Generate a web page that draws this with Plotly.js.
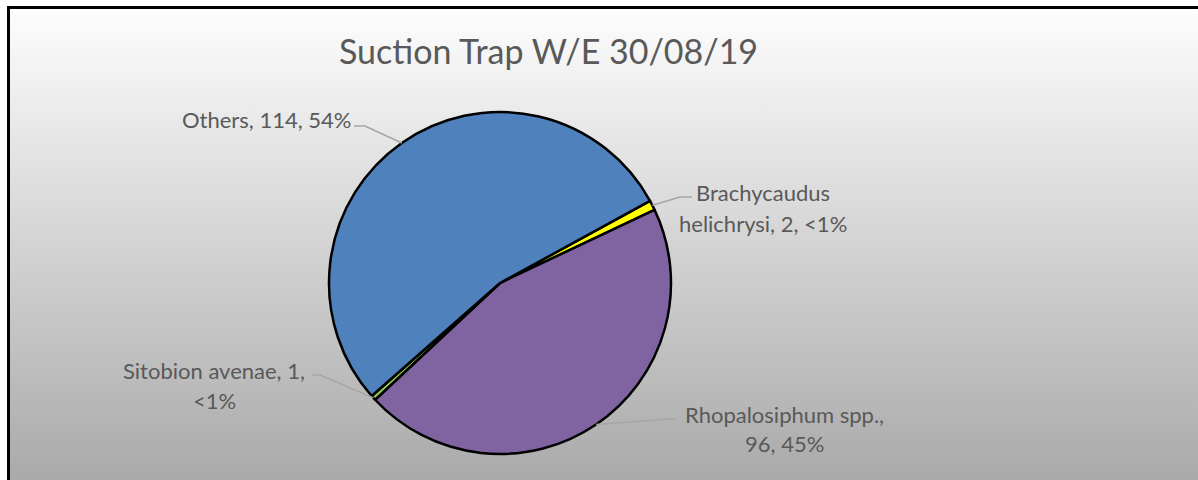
<!DOCTYPE html>
<html><head><meta charset="utf-8">
<script src="https://cdn.plot.ly/plotly-3.0.1.min.js"></script>
<style>
html,body{margin:0;padding:0;background:#fff;}
#wrap{position:relative;width:1198px;height:480px;overflow:hidden;background:#fff;}
#bg{position:absolute;left:7px;top:6px;width:1300px;height:474px;border-top:3px solid #000;border-left:3px solid #000;background:linear-gradient(#fdfdfd,#a9a9a9);}
#chart{position:absolute;left:0;top:0;width:1198px;height:480px;}
</style></head>
<body><div id="wrap"><div id="bg"></div><div id="chart"></div></div>
<script>
// ---- data ----
const chartTitle = "Suction Trap W/E 30/08/19";
const categories = ["Brachycaudus helichrysi", "Rhopalosiphum spp.", "Sitobion avenae", "Others"];
const counts = [2, 96, 1, 114];
const sliceColors = ["#FFFF00", "#8064A2", "#92D050", "#4F81BD"];

// ---- layout constants (pixels) ----
const W = 1198, H = 480;
const CX = 500, CY = 283, R = 171;
const ROT = 61.3;
const FONT = "Lato, 'Open Sans', sans-serif";
const TXT = "#595959";
// label blocks: center x, line centre ys, leader start & elbow
const labelPos = [
  {x: 763, ys: [192, 223], lead: [[692, 197], [680, 197]]},
  {x: 784, ys: [414, 443], lead: [[677, 419], [670, 419]]},
  {x: 214, ys: [370, 400], lead: [[312, 375], [320, 375]]},
  {x: 267, ys: [119], lead: [[354, 126], [365, 126]]}
];

const px = x => x / W;
const py = y => 1 - y / H;

const total = counts.reduce((a, b) => a + b, 0);
function pctText(v) {
  const p = 100 * v / total;
  return p < 1 ? "<1%" : Math.round(p) + "%";
}
function wrap(s, n) {
  const words = s.split(" ");
  const lines = [];
  let cur = "";
  words.forEach(w => {
    if (cur === "") cur = w;
    else if ((cur + " " + w).length <= n) cur += " " + w;
    else { lines.push(cur); cur = w; }
  });
  if (cur) lines.push(cur);
  return lines;
}

const annotations = [];
const shapes = [];
let cum = 0;
counts.forEach((v, i) => {
  const mid = (ROT + 360 * (cum + v / 2) / total) * Math.PI / 180;
  cum += v;
  const ex = CX + R * Math.sin(mid), ey = CY - R * Math.cos(mid);
  const lp = labelPos[i];
  shapes.push({
    type: "path", xref: "paper", yref: "paper",
    path: `M ${px(lp.lead[0][0])},${py(lp.lead[0][1])} L ${px(lp.lead[1][0])},${py(lp.lead[1][1])} L ${px(ex)},${py(ey)}`,
    line: {color: "#a6a6a6", width: 1.5}
  });
  const lines = wrap(`${categories[i]}, ${v}, ${pctText(v)}`, 19);
  lines.forEach((t, k) => {
    annotations.push({
      xref: "paper", yref: "paper", x: px(lp.x), y: py(lp.ys[k]),
      xanchor: "center", yanchor: "middle", showarrow: false, text: t,
      font: {family: FONT, size: 22, color: TXT}
    });
  });
});

const trace = {
  type: "pie",
  labels: categories,
  values: counts,
  sort: false,
  direction: "clockwise",
  rotation: ROT,
  marker: {colors: sliceColors, line: {color: "#000", width: 2.5}},
  textinfo: "none",
  hoverinfo: "none",
  showlegend: false,
  domain: {x: [px(CX - R), px(CX + R)], y: [py(CY + R), py(CY - R)]}
};

const layout = {
  width: W, height: H,
  margin: {l: 0, r: 0, t: 0, b: 0},
  paper_bgcolor: "rgba(0,0,0,0)",
  plot_bgcolor: "rgba(0,0,0,0)",
  showlegend: false,
  title: {
    text: chartTitle, x: px(548.5), xref: "paper", xanchor: "center",
    y: py(52), yref: "paper", yanchor: "middle",
    font: {family: FONT, size: 34, color: TXT}
  },
  annotations: annotations,
  shapes: shapes
};

Plotly.newPlot("chart", [trace], layout, {staticPlot: true, displayModeBar: false});
</script>
</body></html>
